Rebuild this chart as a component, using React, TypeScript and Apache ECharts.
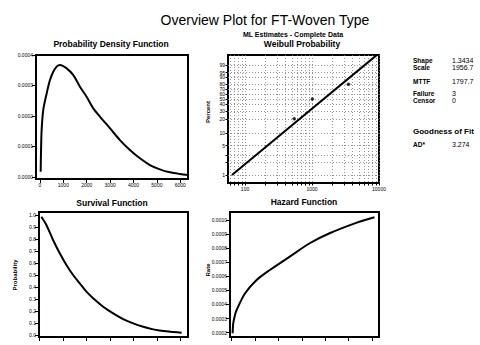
import React, { useEffect, useRef } from "react";
import * as echarts from "echarts";

// ---- data ----
const timeTicks = [0, 1000, 2000, 3000, 4000, 5000, 6000];

const pdfX = [30, 43, 71, 141, 286, 427, 568, 713, 855, 1140, 1425, 1709, 1994, 2279, 2564, 2991, 3419, 3846, 4274, 4701, 5128, 5556, 5983, 6340];
const pdfY = [0.0000174, 0.0000777, 0.000154, 0.00022, 0.000274, 0.000318, 0.000345, 0.000362, 0.000367, 0.000356, 0.000334, 0.000296, 0.000263, 0.000225, 0.000198, 0.00016, 0.000121, 0.0000885, 0.0000612, 0.0000393, 0.0000251, 0.0000153, 0.0000098, 0.0000066];
const pdfTicks = [0, 0.0001, 0.0002, 0.0003, 0.0004];

const survX = [71, 285, 570, 855, 1140, 1425, 1709, 1994, 2279, 2707, 3134, 3561, 3989, 4416, 4843, 5271, 5698, 6054];
const survY = [0.986, 0.917, 0.792, 0.681, 0.583, 0.5, 0.431, 0.361, 0.306, 0.236, 0.181, 0.133, 0.097, 0.069, 0.047, 0.033, 0.025, 0.019];
const survTicks = [0, 0.1, 0.2, 0.3, 0.4, 0.5, 0.6, 0.7, 0.8, 0.9, 1.0];

const hazX = [40, 68, 141, 213, 566, 1064, 1630, 2481, 3332, 4183, 5319, 6100];
const hazY = [0.000196, 0.000267, 0.000326, 0.000361, 0.000478, 0.000574, 0.000645, 0.00074, 0.000835, 0.000906, 0.00098, 0.00102];
const hazTicks = [0.0002, 0.0003, 0.0004, 0.0005, 0.0006, 0.0007, 0.0008, 0.0009, 0.001];

const wbFailTimes = [543, 1011, 3500];
const wbFailPct = [20.6, 50, 79.4];
const wbFitTimes = [63.8, 9500];
const wbFitPct = [1, 99.976];
const wbPctLabels = [1, 5, 10, 20, 30, 40, 50, 60, 70, 80, 90, 95, 99];
const wbPctGrid = [1, 2, 3, 5, 10, 20, 30, 40, 50, 60, 70, 80, 90, 95, 99];
const wbTimeLabels = [100, 1000, 10000];
const wbTimeGrid = [60, 70, 80, 90, 100, 200, 300, 400, 500, 600, 700, 800, 900, 1000, 2000, 3000, 4000, 5000, 6000, 7000, 8000, 9000, 10000];

const statNames = ["Shape", "Scale", "MTTF", "Failure", "Censor"];
const statValues = ["1.3434", "1956.7", "1797.7", "3", "0"];
const gofNames = ["AD*"];
const gofValues = ["3.274"];

// ---- helpers ----
const FONT = "Liberation Sans, Arial, sans-serif";
const wbY = (p: number) => Math.log(-Math.log(1 - p / 100));
const wbX = (t: number) => Math.log10(t);
const zip = (a: number[], b: number[]) => a.map((v, i) => [v, b[i]]);

function axis(
  gridIndex: number,
  min: number,
  max: number,
  ticks: number[],
  labels: number[] | null,
  fmt: (v: number) => string,
  grid = false
) {
  return {
    type: "value",
    gridIndex,
    min,
    max,
    axisLine: { show: false, onZero: false },
    axisTick: { show: true, inside: false, length: grid ? 2.5 : 4, customValues: ticks, lineStyle: { color: "#000", width: 1 } },
    axisLabel: labels
      ? { show: true, customValues: labels, fontSize: 5, color: "#000", margin: 3, fontFamily: FONT, formatter: fmt }
      : { show: false },
    splitLine: grid
      ? { show: true, lineStyle: { type: [1, 2], color: "#777", width: 0.8 } }
      : { show: false },
  };
}

export default function App() {
  const ref = useRef<HTMLDivElement>(null);
  useEffect(() => {
    if (!ref.current) return;
    const chart = echarts.init(ref.current, undefined, { renderer: "svg" });
    const gridBase = { show: true, borderColor: "#000", borderWidth: 2, backgroundColor: "transparent", containLabel: false };
    const curveStyle = { color: "#000", width: 2 };

    const graphics: any[] = [];
    const txt = (x: number, y: number, text: string, size: number, weight: string, align = "center", rot = 0) =>
      graphics.push({
        type: "text",
        x,
        y,
        rotation: rot,
        silent: true,
        style: { text, fontSize: size, fontWeight: weight, fontFamily: FONT, fill: "#000", align, verticalAlign: "middle" },
      });
    txt(265, 20, "Overview Plot for FT-Woven Type", 14, "normal");
    txt(293, 34, "ML Estimates - Complete Data", 7, "bold");
    txt(111, 44, "Probability Density Function", 8.5, "bold");
    txt(302, 44, "Weibull Probability", 8.5, "bold");
    txt(112, 203, "Survival Function", 8.5, "bold");
    txt(304, 202, "Hazard Function", 8.5, "bold");
    txt(208, 112, "Percent", 6, "bold", "center", Math.PI / 2);
    txt(15, 275, "Probability", 6, "bold", "center", Math.PI / 2);
    txt(208, 270, "Rate", 6, "bold", "center", Math.PI / 2);
    const statY = [60, 67, 81, 93, 100];
    statNames.forEach((n, i) => {
      txt(413, statY[i], n, 6.5, "bold", "left");
      txt(452, statY[i], statValues[i], 7, "normal", "left");
    });
    txt(413, 131, "Goodness of Fit", 8, "bold", "left");
    gofNames.forEach((n, i) => {
      txt(413, 144 + i * 8, n, 6.5, "bold", "left");
      txt(452, 144 + i * 8, gofValues[i], 7, "normal", "left");
    });

    const option: any = {
      animation: false,
      backgroundColor: "#fff",
      textStyle: { fontFamily: FONT },
      grid: [
        { ...gridBase, left: 36, top: 55, width: 152, height: 124 },
        { ...gridBase, left: 228, top: 55, width: 151, height: 128 },
        { ...gridBase, left: 39, top: 212, width: 149, height: 125 },
        { ...gridBase, left: 230, top: 212, width: 149, height: 125 },
      ],
      xAxis: [
        axis(0, -170, 6330, timeTicks, timeTicks, (v) => String(Math.round(v))),
        axis(1, wbX(55.7), 4, wbTimeGrid.map(wbX), wbTimeLabels.map(wbX), (v) => String(Math.round(Math.pow(10, v))), true),
        axis(2, -30, 6325, timeTicks, null, (v) => String(v)),
        axis(3, -72, 6295, timeTicks, null, (v) => String(v)),
      ],
      yAxis: [
        axis(0, -0.0000066, 0.0004, pdfTicks, pdfTicks, (v) => v.toFixed(4)),
        axis(1, -5.05, 2.085, wbPctGrid.map(wbY), wbPctLabels.map(wbY), (v) => String(Math.round(100 * (1 - Math.exp(-Math.exp(v))))), true),
        axis(2, -0.0167, 1.025, survTicks, survTicks, (v) => v.toFixed(1)),
        axis(3, 0.000169, 0.001057, hazTicks, hazTicks, (v) => v.toFixed(4)),
      ],
      series: [
        { type: "line", xAxisIndex: 0, yAxisIndex: 0, data: zip(pdfX, pdfY), showSymbol: false, smooth: 0.3, lineStyle: curveStyle, clip: true },
        {
          type: "line",
          xAxisIndex: 1,
          yAxisIndex: 1,
          data: wbFitTimes.map((t, i) => [wbX(t), wbY(wbFitPct[i])]),
          showSymbol: false,
          lineStyle: curveStyle,
          clip: true,
        },
        {
          type: "scatter",
          xAxisIndex: 1,
          yAxisIndex: 1,
          data: wbFailTimes.map((t, i) => [wbX(t), wbY(wbFailPct[i])]),
          symbol: "circle",
          symbolSize: 3.5,
          itemStyle: { color: "#000" },
        },
        { type: "line", xAxisIndex: 2, yAxisIndex: 2, data: zip(survX, survY), showSymbol: false, smooth: 0.3, lineStyle: curveStyle, clip: true },
        { type: "line", xAxisIndex: 3, yAxisIndex: 3, data: zip(hazX, hazY), showSymbol: false, smooth: 0.3, lineStyle: curveStyle, clip: true },
      ],
      graphic: graphics,
    };
    chart.setOption(option);
    return () => chart.dispose();
  }, []);
  return <div ref={ref} style={{ position: "absolute", left: 0, top: 0, width: 480, height: 345 }} />;
}
